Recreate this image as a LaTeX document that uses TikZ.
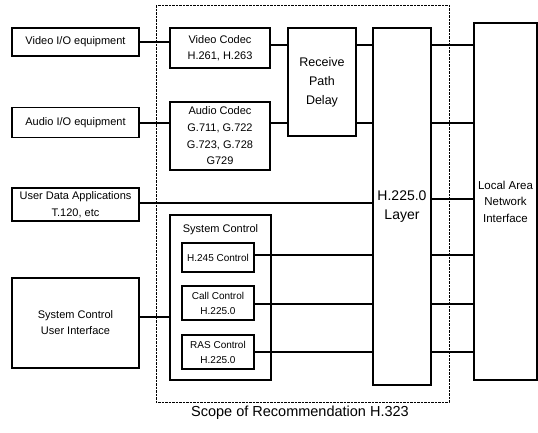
\documentclass[tikz,border=0pt]{standalone}
\usepackage{fontspec}
\setmainfont{Liberation Sans}
\begin{document}
\begin{tikzpicture}[x=1pt,y=-1pt,
  box/.style={draw,line width=1.1pt,rectangle,inner sep=1pt,align=center,font=\fontsize{11}{16}\selectfont},
  conn/.style={line width=1.1pt},
  scopebox/.style={line width=1pt,dash pattern=on 2.5pt off 1pt}]
\useasboundingbox (0,0) rectangle (538,432);
% left column
\node[box,minimum width=127pt,minimum height=28pt] (videoio) at (75.5,42) {Video I/O equipment};
\node[box,minimum width=127pt,minimum height=30pt] (audioio) at (75.5,122.5) {Audio I/O equipment};
\node[box,minimum width=127pt,minimum height=33pt,font=\fontsize{11}{17}\selectfont] (userdata) at (75.5,204.5) {User Data Applications\\T.120, etc};
\node[box,minimum width=127pt,minimum height=90pt] (sysui) at (75.5,323) {System Control\\User Interface};
% codecs
\node[box,minimum width=100pt,minimum height=40pt] (vcodec) at (220,48) {Video Codec\\H.261, H.263};
\node[box,minimum width=100pt,minimum height=68pt,font=\fontsize{11}{16.7}\selectfont] (acodec) at (220,136) {Audio Codec\\G.711, G.722\\G.723, G.728\\G729};
\node[box,minimum width=68pt,minimum height=108pt,font=\fontsize{12.5}{19}\selectfont] (rpd) at (322,82) {Receive\\Path\\Delay};
\node[box,minimum width=58pt,minimum height=357pt,font=\fontsize{14}{18.5}\selectfont] (h225) at (402,206.5) {H.225.0\\Layer};
\node[box,minimum width=63pt,minimum height=357pt,font=\fontsize{11.5}{16.5}\selectfont] (lan) at (505.5,201.5) {Local Area\\Network\\Interface};
% system control
\node[box,minimum width=101pt,minimum height=165pt] (sysctl) at (220.5,297.5) {};
\node[font=\fontsize{11}{13}\selectfont,inner sep=0pt] (sysctllabel) at (220.5,230) {System Control};
\node[box,minimum width=72pt,minimum height=29pt,font=\fontsize{10}{15}\selectfont] (h245) at (218,257.5) {H.245 Control};
\node[box,minimum width=72pt,minimum height=34pt,font=\fontsize{10}{15}\selectfont] (callc) at (218,303) {Call Control\\H.225.0};
\node[box,minimum width=72pt,minimum height=34pt,font=\fontsize{10}{15}\selectfont] (rasc) at (218,352) {RAS Control\\H.225.0};
% scope
\draw[scopebox] (156,5) rectangle (449,402);
\node[font=\fontsize{14.5}{17}\selectfont] (caption) at (300,413) {Scope of Recommendation H.323};
% y levels
\coordinate (ya) at (0,42);
\coordinate (yb) at (0,45);
\coordinate (yc) at (0,123);
\coordinate (yd) at (0,203);
\coordinate (ye) at (0,199);
\coordinate (yf) at (0,255);
\coordinate (yg) at (0,304);
\coordinate (yh) at (0,352);
\coordinate (yi) at (0,317);
% connectors
\draw[conn] (videoio.east |- ya) -- (vcodec.west |- ya);
\draw[conn] (vcodec.east |- yb) -- (rpd.west |- yb);
\draw[conn] (rpd.east |- yb) -- (h225.west |- yb);
\draw[conn] (h225.east |- yb) -- (lan.west |- yb);
\draw[conn] (audioio.east |- yc) -- (acodec.west |- yc);
\draw[conn] (acodec.east |- yc) -- (rpd.west |- yc);
\draw[conn] (rpd.east |- yc) -- (h225.west |- yc);
\draw[conn] (h225.east |- yc) -- (lan.west |- yc);
\draw[conn] (userdata.east |- yd) -- (h225.west |- yd);
\draw[conn] (h225.east |- ye) -- (lan.west |- ye);
\draw[conn] (h245.east |- yf) -- (h225.west |- yf);
\draw[conn] (h225.east |- yf) -- (lan.west |- yf);
\draw[conn] (callc.east |- yg) -- (h225.west |- yg);
\draw[conn] (h225.east |- yg) -- (lan.west |- yg);
\draw[conn] (rasc.east |- yh) -- (h225.west |- yh);
\draw[conn] (h225.east |- yh) -- (lan.west |- yh);
\draw[conn] (sysui.east |- yi) -- (sysctl.west |- yi);
\end{tikzpicture}
\end{document}
